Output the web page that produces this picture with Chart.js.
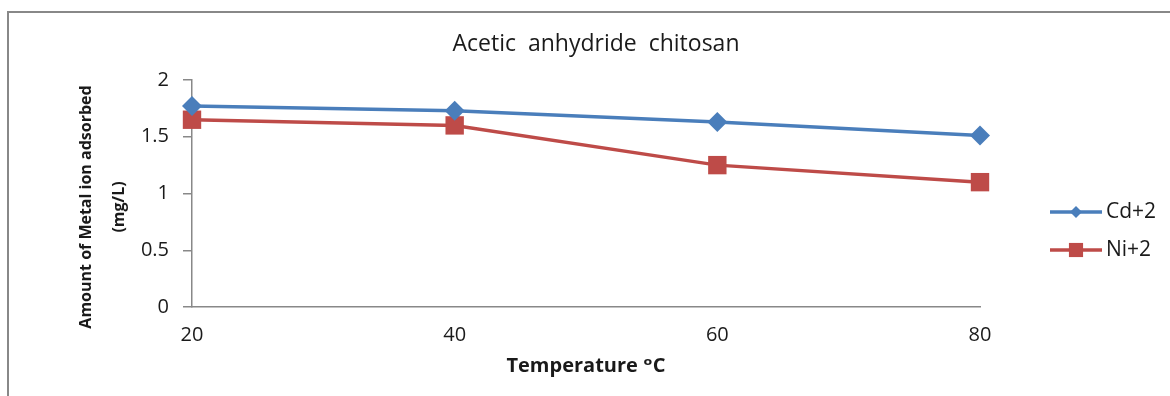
<!DOCTYPE html>
<html>
<head>
<meta charset="utf-8">
<title>Acetic anhydride chitosan</title>
<script src="https://cdn.jsdelivr.net/npm/chart.js@4/dist/chart.umd.min.js"></script>
<style>
    html, body { margin: 0; padding: 0; background: #fff; }
    #wrap { width: 1170px; height: 396px; position: relative; }
</style>
</head>
<body>
<div id="wrap"><canvas id="metal-chart" width="1170" height="396"></canvas></div>
<script>
var temperatures = ['20', '40', '60', '80'];
var cdValues = [1.77, 1.73, 1.63, 1.51];
var niValues = [1.65, 1.60, 1.25, 1.10];
var yTicks = [0, 0.5, 1, 1.5, 2];

var FONT = "'Open Sans', 'DejaVu Sans', sans-serif";
var AXIS_GREY = '#888888';
var TEXT = '#1a1a1a';

// frame, title, rotated y title and the legend on the right
var decorations = {
    id: 'decorations',
    beforeDraw: function (chart) {
        var ctx = chart.ctx;
        ctx.save();
        ctx.fillStyle = '#fff';
        ctx.fillRect(0, 0, chart.width, chart.height);
        ctx.strokeStyle = AXIS_GREY;
        ctx.lineWidth = 2;
        ctx.beginPath();
        ctx.moveTo(8, chart.height);
        ctx.lineTo(8, 12);
        ctx.lineTo(chart.width, 12);
        ctx.stroke();
        ctx.restore();
    },
    afterDraw: function (chart) {
        var ctx = chart.ctx;
        var area = chart.chartArea;
        ctx.save();
        ctx.fillStyle = TEXT;
        ctx.textBaseline = 'middle';

        ctx.font = '23px ' + FONT;
        ctx.textAlign = 'center';
        ctx.fillText('Acetic  anhydride  chitosan', 596, 44);

        ctx.save();
        ctx.translate(86, 207);
        ctx.rotate(-Math.PI / 2);
        ctx.font = 'bold 16px ' + FONT;
        ctx.fillText('Amount of Metal ion adsorbed', 0, 0);
        ctx.fillText('(mg/L)', 0, 33);
        ctx.restore();

        ctx.textAlign = 'left';
        ctx.font = '21px ' + FONT;
        chart.data.datasets.forEach(function (ds, i) {
            var y = 212 + i * 38;
            ctx.strokeStyle = ds.borderColor;
            ctx.lineWidth = ds.borderWidth;
            ctx.beginPath();
            ctx.moveTo(area.right + 70, y);
            ctx.lineTo(area.right + 122, y);
            ctx.stroke();
            ctx.fillStyle = ds.pointBackgroundColor;
            Chart.helpers.drawPoint(ctx, {
                pointStyle: ds.pointStyle,
                radius: ds.pointStyle === 'rect' ? 10 : 6,
                rotation: 0,
                borderWidth: 0
            }, area.right + 96, y);
            ctx.fillStyle = TEXT;
            ctx.fillText(ds.label, area.right + 126, y);
        });
        ctx.restore();
    }
};

var ctx = document.getElementById('metal-chart').getContext('2d');
var metalChart = new Chart(ctx, {
    type: 'line',
    data: {
        labels: temperatures,
        datasets: [{
            label: 'Cd+2',
            data: cdValues,
            borderColor: '#4a7ebb',
            backgroundColor: '#4a7ebb',
            pointBackgroundColor: '#4a7ebb',
            pointBorderColor: '#4a7ebb',
            borderWidth: 3.5,
            pointStyle: 'rectRot',
            pointRadius: 10,
            pointBorderWidth: 0,
            tension: 0
        }, {
            label: 'Ni+2',
            data: niValues,
            borderColor: '#be4b48',
            backgroundColor: '#be4b48',
            pointBackgroundColor: '#be4b48',
            pointBorderColor: '#be4b48',
            borderWidth: 3.5,
            pointStyle: 'rect',
            pointRadius: 13,
            pointBorderWidth: 0,
            tension: 0
        }]
    },
    options: {
        responsive: false,
        animation: false,
        devicePixelRatio: 1,
        layout: { padding: { top: 80, right: 190, bottom: 0, left: 0 } },
        plugins: {
            legend: { display: false },
            title: { display: false },
            tooltip: { enabled: false }
        },
        scales: {
            x: {
                type: 'category',
                offset: false,
                grid: { drawOnChartArea: false, drawTicks: false },
                border: { color: AXIS_GREY, width: 1.5 },
                ticks: { color: TEXT, font: { family: FONT, size: 20 }, padding: 16, maxRotation: 0 },
                title: {
                    display: true,
                    text: 'Temperature ᵒC',
                    color: TEXT,
                    font: { family: FONT, size: 20, weight: 'bold' },
                    padding: { top: 0, bottom: 18 }
                },
                afterFit: function (scale) { scale.height = 89; }
            },
            y: {
                min: 0,
                max: 2,
                afterBuildTicks: function (scale) {
                    scale.ticks = yTicks.map(function (v) { return { value: v }; });
                },
                grid: { drawOnChartArea: false, drawTicks: true, tickLength: 9, color: AXIS_GREY, lineWidth: 1.5 },
                border: { color: AXIS_GREY, width: 1.5 },
                ticks: {
                    color: TEXT,
                    font: { family: FONT, size: 20 },
                    padding: 14,
                    callback: function (value) { return String(value); }
                },
                afterFit: function (scale) { scale.width = 192; }
            }
        }
    },
    plugins: [decorations]
});
</script>
</body>
</html>
